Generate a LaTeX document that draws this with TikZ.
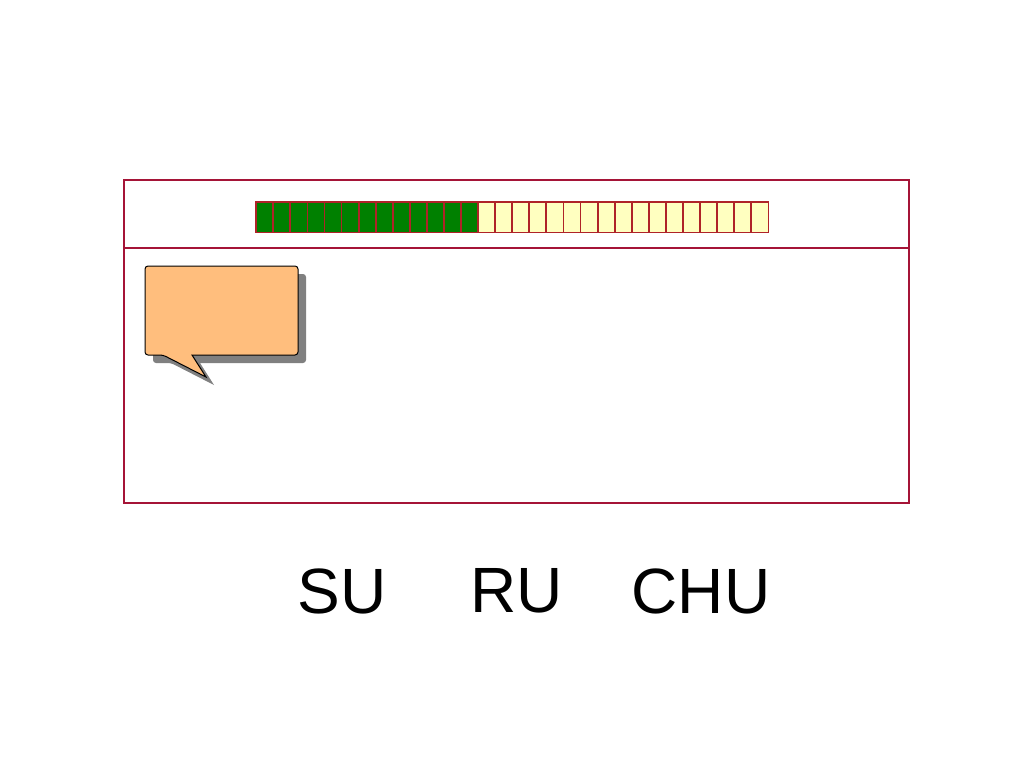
\documentclass[tikz,border=0pt]{standalone}
\usepackage{fontspec}
\setsansfont{Liberation Sans}
\definecolor{frameRed}{RGB}{165,20,55}
\definecolor{cellRed}{RGB}{175,35,40}
\definecolor{doneGreen}{RGB}{0,128,0}
\definecolor{todoYellow}{RGB}{255,255,192}
\definecolor{bubbleOrange}{RGB}{255,190,125}
\definecolor{shadowGray}{RGB}{128,128,128}

\begin{document}
\begin{tikzpicture}[x = 1pt, y = -1pt, font=\sffamily]
	\tikzstyle{frameStyle} = [draw = frameRed, line width = 2.8pt]
	\tikzstyle{cellStyle} = [shape = rectangle, minimum width = 17.07pt, minimum height = 30pt, inner sep = 0pt, anchor = north west]
	\tikzstyle{doneStyle} = [cellStyle, fill = doneGreen]
	\tikzstyle{todoStyle} = [cellStyle, fill = todoYellow]
	\tikzstyle{borderStyle} = [draw = cellRed, line width = 1.4pt]
	\tikzstyle{wordStyle} = [font = \fontsize{64}{70}\selectfont\sffamily, inner sep = 0pt]
	\useasboundingbox (0, 0) rectangle (1024, 768);
	% frame and divider
	\draw[frameStyle] (124, 180) rectangle (909, 503);
	\draw[frameStyle] (124, 248) -- (909, 248);
	% progress cells
	\foreach \i in {1, ..., 30} {
		\pgfmathsetmacro{\cx}{256 + (\i - 1) * 17.07}
		\ifnum\i<14
			\node[doneStyle] (c\i) at (\cx, 202) {};
		\else
			\node[todoStyle] (c\i) at (\cx, 202) {};
		\fi
	}
	\foreach \i in {1, ..., 30} {
		\draw[borderStyle] (c\i.north west) rectangle (c\i.south east);
	}
	% speech bubble with shadow
	\fill[shadowGray, shift = {(8, 8)}, rounded corners = 3] (192, 355) -- (298, 355) -- (298, 266) -- (145, 266) -- (145, 355) -- (163, 355) [sharp corners] -- (206, 377) -- cycle;
	\draw[fill = bubbleOrange, line width = 1pt, rounded corners = 3] (192, 355) -- (298, 355) -- (298, 266) -- (145, 266) -- (145, 355) -- (163, 355) [sharp corners] -- (206, 377) -- cycle;
	% words
	\node[wordStyle] (su) at (342, 591) {SU};
	\node[wordStyle] (ru) at (517, 591) {RU};
	\node[wordStyle] (chu) at (701, 591) {CHU};
\end{tikzpicture}
\end{document}
